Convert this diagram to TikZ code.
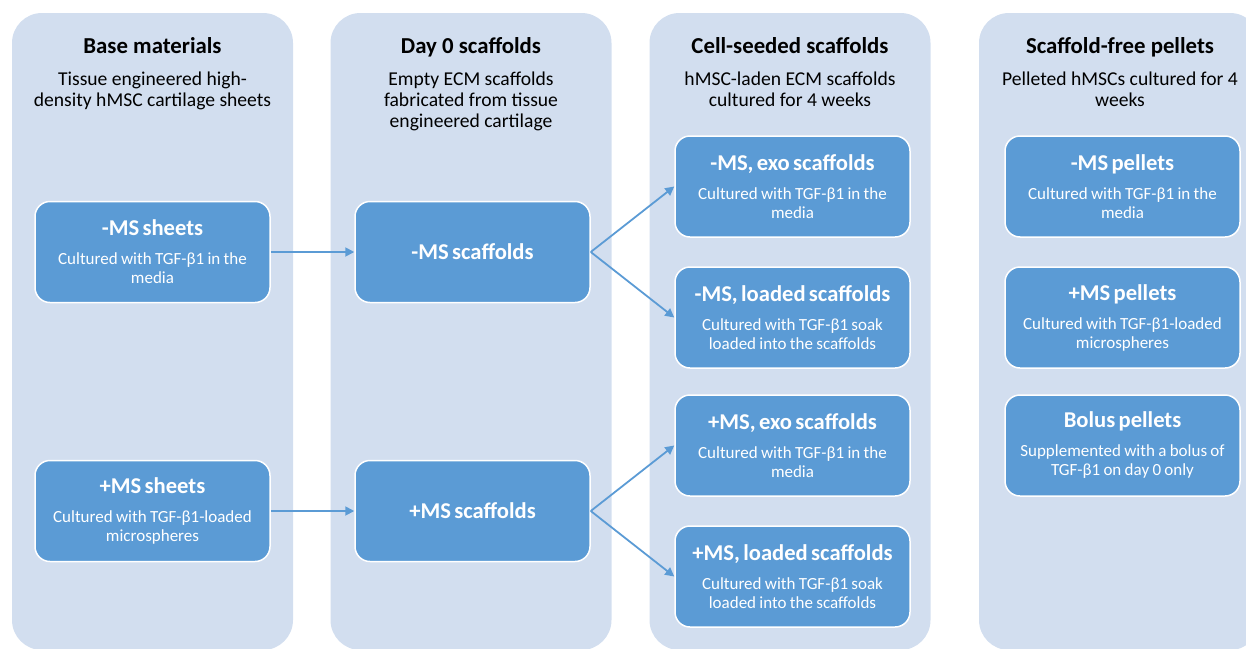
\documentclass[tikz,border=0pt]{standalone}
\usepackage{fontspec}
\setmainfont{Carlito}
\usetikzlibrary{positioning,arrows.meta}

\definecolor{panelblue}{HTML}{D2DEEF}
\definecolor{boxblue}{HTML}{5B9BD5}
\newcommand{\panelhead}{\bfseries\fontsize{22.8}{26}\selectfont}
\newcommand{\panelsub}{\fontsize{19.6}{21}\selectfont}
\newcommand{\stagehead}{\bfseries\fontsize{22.6}{26}\selectfont}
\newcommand{\stagesub}{\fontsize{17}{19}\selectfont}
\newcommand{\stagetext}[2]{{\stagehead #1\par}\vspace{10pt}{\stagesub #2\par}}

\begin{document}
\begin{tikzpicture}[
    x=1pt, y=-1pt,
    panel/.style={rectangle, rounded corners=30pt, fill=panelblue, minimum width=281pt, minimum height=637pt, inner sep=0pt},
    heading/.style={anchor=base, font=\panelhead, inner sep=0pt},
    subheading/.style={anchor=north, align=center, font=\panelsub, inner sep=0pt},
    stage/.style={rectangle, rounded corners=15pt, fill=boxblue, draw=white, line width=1.5pt, minimum width=235pt, minimum height=101pt, text width=232pt, align=center, text=white, inner sep=0pt},
    flow/.style={-{Triangle[length=9pt,width=9pt]}, draw=boxblue, line width=1.8pt}
]
    \useasboundingbox (0,0) rectangle (1246,648);
    \clip (0,0) rectangle (1246,648);

    % columns
    \node [panel] (base) at (152.5,331.5) {};
    \node [panel] (day0) at (471,331.5) {};
    \node [panel] (seeded) at (790,331.5) {};
    \node [panel] (pellets) at (1119.5,331.5) {};

    \node [heading] (baseTitle) at (152.5,53) {Base materials};
    \node [subheading] (baseSub) at (152.5,71.5) {Tissue engineered high-\\density hMSC cartilage sheets};
    \node [heading] (day0Title) at (471,53) {Day 0 scaffolds};
    \node [subheading] (day0Sub) at (471,71.5) {Empty ECM scaffolds\\fabricated from tissue\\engineered cartilage};
    \node [heading] (seededTitle) at (790,53) {Cell-seeded scaffolds};
    \node [subheading] (seededSub) at (790,71.5) {hMSC-laden ECM scaffolds\\cultured for 4 weeks};
    \node [heading] (pelletsTitle) at (1120,53) {Scaffold-free pellets};
    \node [subheading] (pelletsSub) at (1120,71.5) {Pelleted hMSCs cultured for 4\\weeks};

    % sheets
    \node [stage] (msSheets) at (152.5,252) {\stagetext{-MS sheets}{Cultured with TGF-β1 in the\\media}};
    \node [stage] (psSheets) at (152.5,511) {\stagetext{+MS sheets}{Cultured with TGF-β1-loaded\\microspheres}};

    % day 0 scaffolds
    \node [stage] (msScaf) at (472.5,252) {{\stagehead -MS scaffolds\par}};
    \node [stage] (psScaf) at (472.5,511) {{\stagehead +MS scaffolds\par}};

    % seeded scaffolds
    \node [stage] (msExo) at (792.5,186.5) {\stagetext{-MS, exo scaffolds}{Cultured with TGF-β1 in the\\media}};
    \node [stage] (msLoad) at (792.5,317.5) {\stagetext{-MS, loaded scaffolds}{Cultured with TGF-β1 soak\\loaded into the scaffolds}};
    \node [stage] (psExo) at (792.5,445.5) {\stagetext{+MS, exo scaffolds}{Cultured with TGF-β1 in the\\media}};
    \node [stage] (psLoad) at (792.5,576.5) {\stagetext{+MS, loaded scaffolds}{Cultured with TGF-β1 soak\\loaded into the scaffolds}};

    % pellets
    \node [stage] (msPel) at (1122.5,186.5) {\stagetext{-MS pellets}{Cultured with TGF-β1 in the\\media}};
    \node [stage] (psPel) at (1122.5,317.5) {\stagetext{+MS pellets}{Cultured with TGF-β1-loaded\\microspheres}};
    \node [stage] (bolus) at (1122.5,445.5) {\stagetext{Bolus pellets}{Supplemented with a bolus of\\TGF-β1 on day 0 only}};

    \draw [flow] (msSheets) -- (msScaf);
    \draw [flow] (psSheets) -- (psScaf);
    \draw [flow] (msScaf.east) -- (msExo.west);
    \draw [flow] (msScaf.east) -- (msLoad.west);
    \draw [flow] (psScaf.east) -- (psExo.west);
    \draw [flow] (psScaf.east) -- (psLoad.west);
\end{tikzpicture}
\end{document}
